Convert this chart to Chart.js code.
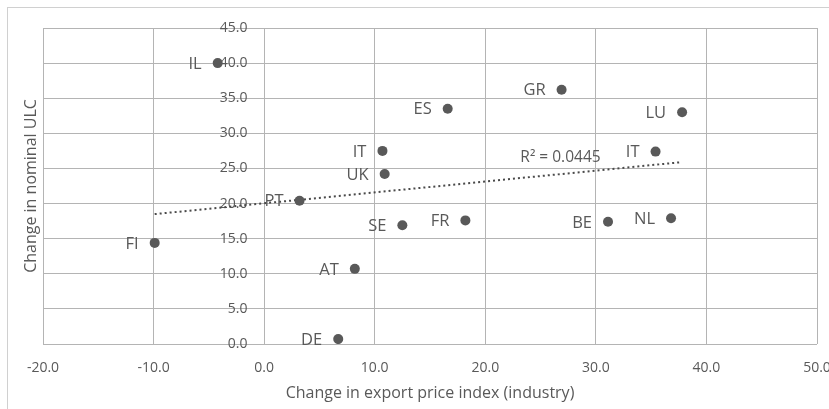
<!DOCTYPE html>
<html>
<head>
<meta charset="utf-8">
<script src="https://cdn.jsdelivr.net/npm/chart.js@4"></script>
<style>
  html, body { margin: 0; padding: 0; background: #fff; }
  #frame { position: absolute; left: 7px; top: 7px; width: 900px; height: 500px; border: 1px solid #d0d0d0; }
  #wrap { position: absolute; left: 0; top: 0; width: 829px; height: 409px; }
</style>
</head>
<body>
<div id="frame"></div>
<div id="wrap"><canvas id="chart"></canvas></div>
<script>
// values
const countries   = ['IL', 'GR', 'ES', 'IT', 'UK', 'LU', 'IT', 'PT', 'FI', 'SE', 'FR', 'AT', 'DE', 'BE', 'NL'];
const exportPrice = [-4.2, 26.9, 16.6, 10.7, 10.9, 37.8, 35.4, 3.2, -9.9, 12.5, 18.2, 8.2, 6.7, 31.1, 36.8];
const nominalUlc  = [40.0, 36.2, 33.5, 27.5, 24.2, 33.0, 27.4, 20.4, 14.4, 16.9, 17.6, 10.7, 0.7, 17.4, 17.9];

// dotted linear trend, end points
const trendX = [-9.9, 37.8];
const trendY = [18.5, 25.9];
const r2Text = 'R\u00B2 = 0.0445';

const xRange = [-20, 50];
const yRange = [0, 45];

const textColor = '#595959';
const gridColor = '#b4b4b4';
const font = '"Open Sans", sans-serif';

const points = exportPrice.map((x, i) => ({ x, y: nominalUlc[i] }));
const trend = trendX.map((x, i) => ({ x, y: trendY[i] }));

const labelPlugin = {
  id: 'labelPlugin',
  afterDatasetsDraw(chart) {
    const ctx = chart.ctx;
    const meta = chart.getDatasetMeta(0);
    ctx.save();
    ctx.fillStyle = textColor;
    ctx.textAlign = 'right';
    ctx.textBaseline = 'middle';
    ctx.font = '16.5px ' + font;
    meta.data.forEach((pt, i) => {
      ctx.fillText(countries[i], pt.x - 16, pt.y + 1);
    });
    // R² label sits just above the right part of the trend line
    const sx = chart.scales.x, sy = chart.scales.y;
    ctx.textAlign = 'center';
    ctx.font = '15.5px ' + font;
    ctx.fillText(r2Text, sx.getPixelForValue(26.8), sy.getPixelForValue(26.6));
    ctx.restore();
  }
};

function noPad(scale) {
  scale.paddingLeft = 0; scale.paddingRight = 0;
  scale.paddingTop = 0; scale.paddingBottom = 0;
}

new Chart(document.getElementById('chart'), {
  type: 'scatter',
  data: {
    datasets: [
      {
        label: 'countries',
        data: points,
        order: 0,
        pointRadius: 5,
        pointHoverRadius: 5,
        backgroundColor: '#595959',
        borderColor: '#595959',
        borderWidth: 0
      },
      {
        type: 'line',
        label: 'trend',
        data: trend,
        order: 1,
        showLine: true,
        pointRadius: 0,
        borderColor: '#4a4a4a',
        borderWidth: 2,
        borderDash: [2, 3],
        fill: false
      }
    ]
  },
  options: {
    responsive: true,
    maintainAspectRatio: false,
    animation: false,
    layout: { padding: { top: 28, right: 12, bottom: 0, left: 0 } },
    plugins: { legend: { display: false }, tooltip: { enabled: false } },
    scales: {
      x: {
        type: 'linear',
        position: 'bottom',
        min: xRange[0], max: xRange[1],
        ticks: {
          stepSize: 10,
          padding: 16,
          color: textColor,
          font: { family: font, size: 14 },
          callback: v => v.toFixed(1)
        },
        grid: { color: gridColor, drawTicks: false },
        border: { display: false },
        title: {
          display: true,
          text: 'Change in export price index (industry)',
          color: textColor,
          font: { family: font, size: 16 },
          padding: { top: 0, bottom: 6 }
        },
        afterFit(scale) { scale.height = 65; noPad(scale); }
      },
      y: {
        type: 'linear',
        position: 'left',
        min: yRange[0], max: yRange[1],
        ticks: { stepSize: 5, display: false },
        grid: { color: gridColor, drawTicks: false },
        border: { display: false },
        title: {
          display: true,
          text: 'Change in nominal ULC',
          color: textColor,
          font: { family: font, size: 16 },
          padding: { top: 22, bottom: 0 }
        },
        afterFit(scale) { scale.width = 43; noPad(scale); }
      },
      // tick labels sit beside the x = 0 line, as in the original
      yLabels: {
        type: 'linear',
        position: { x: -1.5 },
        min: yRange[0], max: yRange[1],
        ticks: {
          stepSize: 5,
          color: textColor,
          font: { family: font, size: 14 },
          callback: v => v.toFixed(1)
        },
        grid: { display: false },
        border: { display: false },
        afterFit(scale) { noPad(scale); }
      }
    }
  },
  plugins: [labelPlugin]
});
</script>
</body>
</html>
